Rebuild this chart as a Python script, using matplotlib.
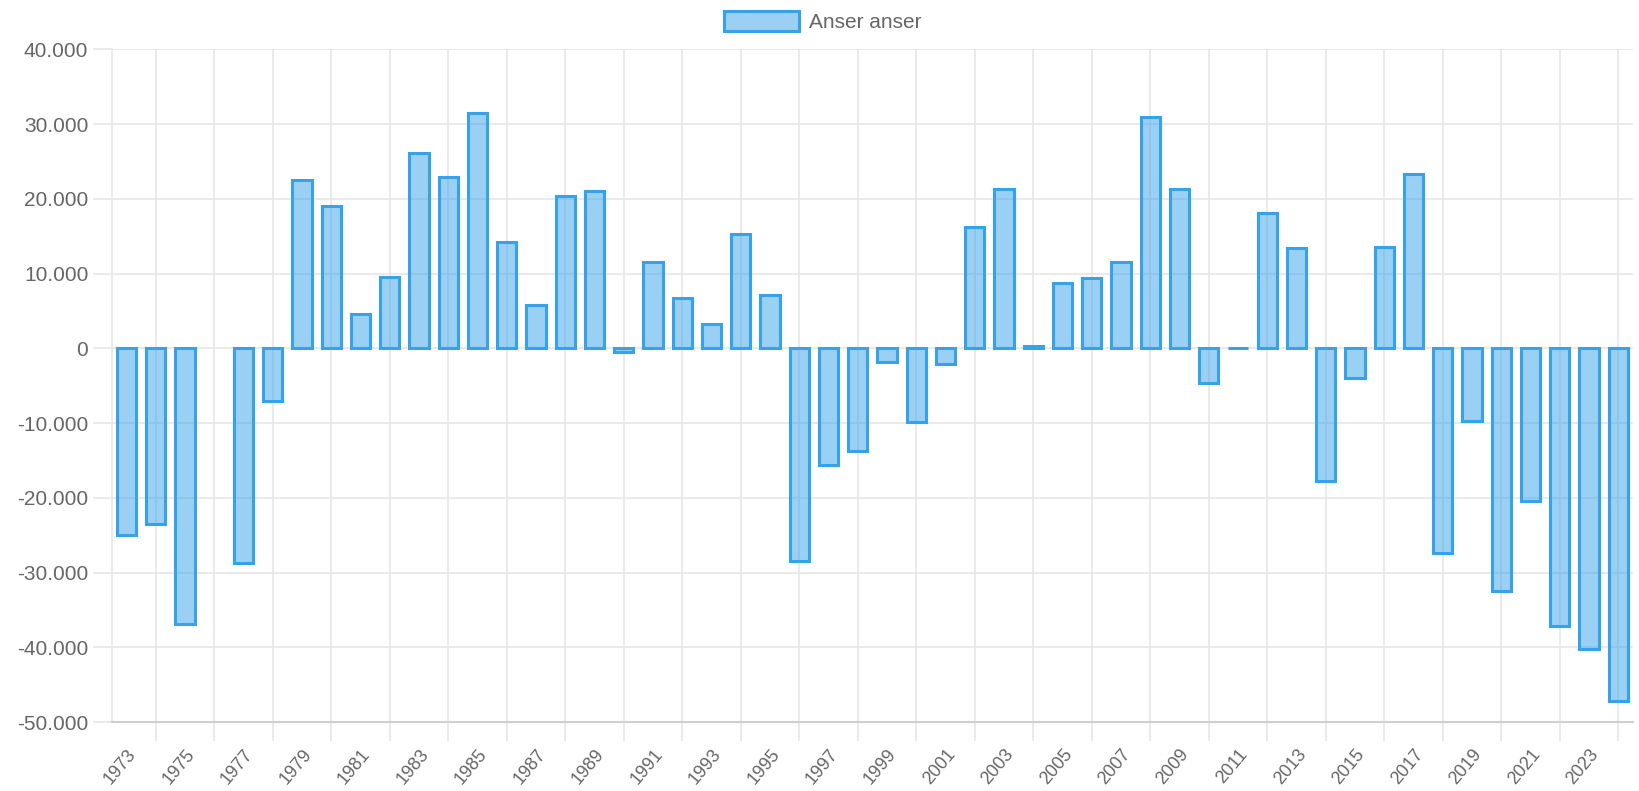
import numpy as np
import matplotlib.pyplot as plt
from matplotlib.ticker import FuncFormatter, FixedLocator
from matplotlib.patches import Patch

plt.rcParams['font.family'] = ['Liberation Sans', 'DejaVu Sans']

years = list(range(1973, 2025))
values = [-24900, -23500, -36800, np.nan, -28700, -7100, 22500, 19100, 4550, 9500,
          26100, 22900, 31500, 14250, 5800, 20400, 21100, -450, 11600, 6800,
          3200, 15300, 7200, -28500, -15600, -13700, -1800, -9850, -2100, 16200,
          21300, 350, 8800, 9400, 11500, 30900, 21300, -4600, 100, 18050,
          13450, -17800, -4000, 13600, 23300, -27400, -9700, -32400, -20400, -37100,
          -40200, -47200]
series_name = "Anser anser"

edge = "#36a2eb"
fill = (54/255, 162/255, 235/255, 0.5)
txt = "#666666"
grid = "#e6e6e6"

fig = plt.figure(figsize=(16.39, 7.91), dpi=100)
ax = fig.add_axes([0.0683, 0.0869, 0.9280, 0.8508])

x = np.arange(len(years))
ax.bar(x, values, width=0.66, color=fill, edgecolor=edge, linewidth=2.2, zorder=3)

ax.set_xlim(-0.5, len(years) - 0.5)
ax.set_ylim(-50000, 40000)

ax.yaxis.set_major_locator(FixedLocator(range(-50000, 40001, 10000)))
ax.yaxis.set_major_formatter(FuncFormatter(lambda v, p: f"{int(v):,}".replace(",", ".")))
ax.grid(axis='y', color=grid, linewidth=1.2, zorder=0)
ax.tick_params(axis='y', length=14, color=grid, width=1.2, labelsize=15, labelcolor=txt, pad=3)

# labels every other year, gridlines at the years in between
lab_pos = x[::2]
ax.set_xticks(lab_pos)
ax.set_xticklabels([str(years[i]) for i in lab_pos], rotation=50, ha='right',
                   rotation_mode='anchor', fontsize=13, color=txt)
ax.tick_params(axis='x', which='major', length=0, pad=17)
ax.set_xticks(x[1::2], minor=True)
ax.tick_params(axis='x', which='minor', length=14, color=grid, width=1.2)
ax.grid(axis='x', which='minor', color=grid, linewidth=1.2, zorder=0)

for s in ['top', 'right']:
    ax.spines[s].set_visible(False)
ax.spines['left'].set_color(grid)
ax.spines['left'].set_linewidth(1.2)
ax.spines['bottom'].set_color("#cfcfcf")
ax.spines['bottom'].set_linewidth(1.5)

handle = Patch(facecolor=fill, edgecolor=edge, linewidth=2.2)
fig.legend([handle], [series_name], loc='center', bbox_to_anchor=(0.502, 0.973),
           frameon=False, fontsize=15, labelcolor=txt, handlelength=3.6,
           handleheight=1.1, handletextpad=0.5)

fig.savefig("out.png", dpi=100)
